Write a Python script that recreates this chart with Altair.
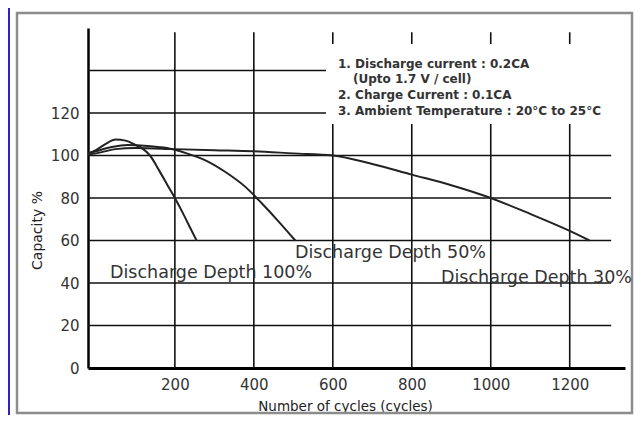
import altair as alt
import pandas as pd

# ---- data ----
x_100 = [-20, 0, 25, 50, 75, 100, 120, 137, 160, 180, 200, 220, 240, 255]
y_100 = [101, 102.5, 105.5, 107.5, 107, 105, 103, 100, 93, 86.5, 80, 73, 65.5, 60]

x_50 = [-20, 0, 40, 80, 130, 180, 230, 280, 330, 380, 420, 460, 505]
y_50 = [101, 102, 104, 105, 104.5, 103.5, 101, 97.5, 92, 85, 77.5, 69.5, 60]

x_30 = [-20, 0, 50, 100, 200, 300, 400, 500, 600, 700, 800, 900, 1000, 1100, 1200, 1250]
y_30 = [100.5, 101, 103, 103.5, 103, 102.5, 102, 101, 100, 96, 91, 86, 80, 72.5, 64.5, 60]

series_names = ["Discharge Depth 100%", "Discharge Depth 50%", "Discharge Depth 30%"]

x_ticks = [200, 400, 600, 800, 1000, 1200]
y_ticks = [0, 20, 40, 60, 80, 100, 120]
h_grid = [20, 40, 60, 80, 100, 120, 140]

notes = [
    "1. Discharge current : 0.2CA",
    "(Upto 1.7 V / cell)",
    "2. Charge Current : 0.1CA",
    "3. Ambient Temperature : 20°C to 25°C",
]

FONT = "DejaVu Sans"

rows = []
for name, xs, ys in zip(series_names, [x_100, x_50, x_30], [y_100, y_50, y_30]):
    for i, (a, b) in enumerate(zip(xs, ys)):
        rows.append({"series": name, "cycles": a, "capacity": b, "order": i})
df = pd.DataFrame(rows)

xscale = alt.Scale(domain=[-20, 1340], nice=False, zero=False)
yscale = alt.Scale(domain=[0, 160], nice=False)

hgrid_df = pd.DataFrame({"y": h_grid, "x1": -20, "x2": 1305})
vgrid_df = pd.DataFrame({"x": x_ticks, "y1": 0, "y2": 158})

hgrid = alt.Chart(hgrid_df).mark_rule(color="#111", strokeWidth=1.6).encode(
    x=alt.X("x1:Q", scale=xscale,
            axis=alt.Axis(values=x_ticks, format="d", title="Number of cycles (cycles)",
                          grid=False, ticks=False, domainColor="#000", domainWidth=3,
                          labelFont=FONT, labelFontSize=15, labelColor="#333",
                          labelPadding=9, titleFont=FONT, titleFontSize=13.5,
                          titleFontWeight="normal", titleColor="#222",
                          titleX=257, titleY=38, titleBaseline="middle")),
    x2="x2:Q",
    y=alt.Y("y:Q", scale=yscale,
            axis=alt.Axis(values=y_ticks, format="d", title="Capacity %", grid=False,
                          ticks=False, domainColor="#000", domainWidth=2.5,
                          labelFont=FONT, labelFontSize=15, labelColor="#333",
                          labelPadding=9, titleFont=FONT, titleFontSize=14,
                          titleFontWeight="normal", titleColor="#222",
                          titleX=-51, titleY=202, titleAlign="center",
                          titleBaseline="middle", titleAngle=270)),
)

vgrid = alt.Chart(vgrid_df).mark_rule(color="#111", strokeWidth=1.6).encode(
    x=alt.X("x:Q", scale=xscale), y=alt.Y("y1:Q", scale=yscale), y2="y2:Q"
)

# white panel behind the notes (hides the grid there, as in the reference)
notes_bg = alt.Chart(pd.DataFrame({"a": [0]})).mark_rect(fill="white").encode(
    x=alt.value(238), x2=alt.value(528), y=alt.value(16), y2=alt.value(96)
)

lines = alt.Chart(df).mark_line(color="#222", strokeWidth=2, interpolate="monotone").encode(
    x=alt.X("cycles:Q", scale=xscale),
    y=alt.Y("capacity:Q", scale=yscale),
    detail="series:N",
    order="order:Q",
)

lbl_df = pd.DataFrame({"t": series_names})
lbl100 = alt.Chart(lbl_df.iloc[[0]]).mark_text(
    font=FONT, fontSize=17.5, color="#333", align="left", baseline="middle"
).encode(text="t:N", x=alt.value(22), y=alt.value(245))
lbl50 = alt.Chart(lbl_df.iloc[[1]]).mark_text(
    font=FONT, fontSize=17.5, color="#333", align="left", baseline="middle"
).encode(text="t:N", x=alt.value(207), y=alt.value(225))
lbl30 = alt.Chart(lbl_df.iloc[[2]]).mark_text(
    font=FONT, fontSize=17.5, color="#333", align="right", baseline="middle"
).encode(text="t:N", x=alt.value(544), y=alt.value(250))

note_layers = []
for txt, nx, ny in zip(notes, [250, 265, 250, 250], [36, 51, 67, 83]):
    note_layers.append(
        alt.Chart(pd.DataFrame({"t": [txt]})).mark_text(
            font=FONT, fontSize=12, fontWeight="bold", color="#333",
            align="left", baseline="middle"
        ).encode(text="t:N", x=alt.value(nx), y=alt.value(ny))
    )

frame = alt.Chart(pd.DataFrame({"a": [0]})).mark_rect(
    fill="transparent", stroke="#8c8c8c", strokeWidth=2.5
).encode(x=alt.value(-71), x2=alt.value(544), y=alt.value(-15), y2=alt.value(385))

bluebar = alt.Chart(pd.DataFrame({"a": [0]})).mark_rect(
    fill="#2a22c8"
).encode(x=alt.value(-80), x2=alt.value(-78), y=alt.value(-20), y2=alt.value(387))

chart = alt.layer(
    frame, bluebar, hgrid, vgrid, notes_bg, lines, lbl100, lbl50, lbl30, *note_layers
).properties(
    width=537, height=340,
    padding={"left": 80, "top": 20, "right": 9, "bottom": 47},
    autosize=alt.AutoSizeParams(type="none"),
    background="white",
).configure_view(stroke=None)

chart.save("out.html", embed_options={"renderer": "svg", "actions": False})
